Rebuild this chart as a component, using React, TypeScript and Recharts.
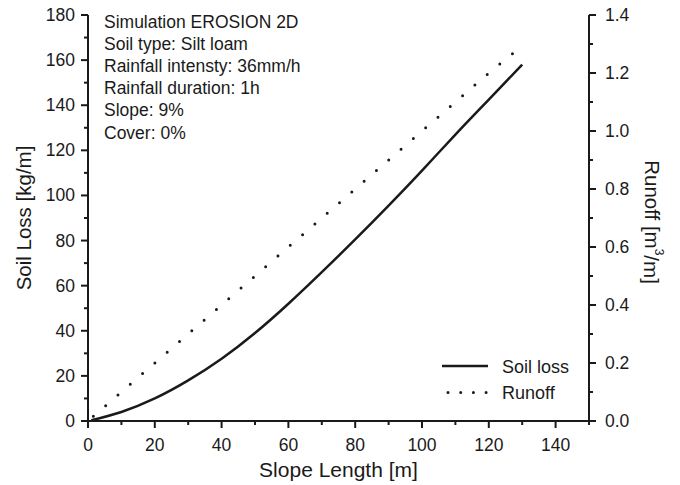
import React from 'react';
import { LineChart, Line, XAxis, YAxis, Label } from 'recharts';

const soilSlopeLength = [1, 10, 20, 30, 40, 50, 60, 70, 80, 90, 100, 110, 120, 130];
const soilLossValues = [0.3, 4, 10, 18, 27.6, 39, 52, 66, 80.5, 95.5, 111, 127, 142.5, 158];
const runoffSlopeLength = [1.6, 10, 20, 30, 40, 50, 60, 70, 80, 90, 100, 110, 120, 128];
const runoffValues = [0.016, 0.1, 0.2, 0.3, 0.4, 0.5, 0.6, 0.7, 0.8, 0.9, 1.0, 1.1, 1.2, 1.275];

const xTicks = [0, 10, 20, 30, 40, 50, 60, 70, 80, 90, 100, 110, 120, 130, 140, 150];
const xLabeled = [0, 20, 40, 60, 80, 100, 120, 140];
const leftTicks = [0, 10, 20, 30, 40, 50, 60, 70, 80, 90, 100, 110, 120, 130, 140, 150, 160, 170, 180];
const leftLabeled = [0, 20, 40, 60, 80, 100, 120, 140, 160, 180];
const rightTicks = [0, 0.1, 0.2, 0.3, 0.4, 0.5, 0.6, 0.7, 0.8, 0.9, 1.0, 1.1, 1.2, 1.3, 1.4];
const rightLabeled = ['0.0', '0.2', '0.4', '0.6', '0.8', '1.0', '1.2', '1.4'];

const annotationLines = [
  'Simulation EROSION 2D',
  'Soil type: Silt loam',
  'Rainfall intensty: 36mm/h',
  'Rainfall duration: 1h',
  'Slope: 9%',
  'Cover: 0%',
];
const legendLabels = ['Soil loss', 'Runoff'];

const soilData = soilSlopeLength.map((L, i) => ({ L, soil: soilLossValues[i] }));
const runoffData = runoffSlopeLength.map((L, i) => ({ L, runoff: runoffValues[i] }));

const FONT = '"Liberation Sans", Arial, sans-serif';
const INK = '#1a1a1a';
const TICK_FS = 17.5;

const XTick = (props: any) => {
  const { x, y, payload } = props;
  const v = payload.value;
  const major = xLabeled.includes(v);
  return (
    <g>
      <line x1={x} y1={y} x2={x} y2={y + (major ? 7 : 4)} stroke={INK} strokeWidth={2} />
      {major && (
        <text x={x} y={y + 30} textAnchor="middle" fontSize={TICK_FS} fontFamily={FONT} fill={INK}>
          {v}
        </text>
      )}
    </g>
  );
};

const LeftTick = (props: any) => {
  const { x, y, payload } = props;
  const v = payload.value;
  const major = leftLabeled.includes(v);
  return (
    <g>
      <line x1={x} y1={y} x2={x - (major ? 7 : 4)} y2={y} stroke={INK} strokeWidth={2} />
      {major && (
        <text x={x - 13} y={y + 6} textAnchor="end" fontSize={TICK_FS} fontFamily={FONT} fill={INK}>
          {v}
        </text>
      )}
    </g>
  );
};

const RightTick = (props: any) => {
  const { x, y, payload } = props;
  const v = payload.value;
  const label = v.toFixed(1);
  const major = rightLabeled.includes(label);
  return (
    <g>
      <line x1={x} y1={y} x2={x + (major ? 7 : 4)} y2={y} stroke={INK} strokeWidth={2} />
      {major && (
        <text x={x + 16} y={y + 6} textAnchor="start" fontSize={TICK_FS} fontFamily={FONT} fill={INK}>
          {label}
        </text>
      )}
    </g>
  );
};

export default function App() {
  return (
    <div style={{ position: 'absolute', left: 0, top: 0, width: 680, height: 485, background: '#fff' }}>
      <LineChart width={680} height={485} margin={{ top: 15, right: 0, bottom: 0, left: 0 }}>
        <XAxis
          type="number"
          dataKey="L"
          domain={[0, 150]}
          ticks={xTicks}
          interval={0}
          height={64}
          tickSize={0}
          tickMargin={0}
          tickLine={false}
          axisLine={{ stroke: INK, strokeWidth: 2 }}
          tick={<XTick />}
          allowDuplicatedCategory={false}
        >
          <Label
            content={(p: any) => {
              const vb = p.viewBox;
              return (
                <text x={vb.x + vb.width / 2} y={vb.y + 56} textAnchor="middle" fontSize={21} fontFamily={FONT} fill={INK}>
                  Slope Length [m]
                </text>
              );
            }}
          />
        </XAxis>
        <YAxis
          yAxisId="left"
          type="number"
          domain={[0, 180]}
          ticks={leftTicks}
          interval={0}
          width={88}
          tickSize={0}
          tickMargin={0}
          tickLine={false}
          axisLine={{ stroke: INK, strokeWidth: 2 }}
          tick={<LeftTick />}
        >
          <Label
            content={(p: any) => {
              const vb = p.viewBox;
              const cx = 23;
              const cy = vb.y + vb.height / 2;
              return (
                <text x={cx} y={cy} textAnchor="middle" dominantBaseline="central" transform={`rotate(-90 ${cx} ${cy})`} fontSize={20.5} fontFamily={FONT} fill={INK}>
                  Soil Loss [kg/m]
                </text>
              );
            }}
          />
        </YAxis>
        <YAxis
          yAxisId="right"
          orientation="right"
          type="number"
          domain={[0, 1.4]}
          ticks={rightTicks}
          interval={0}
          width={91}
          tickSize={0}
          tickMargin={0}
          tickLine={false}
          axisLine={{ stroke: INK, strokeWidth: 2 }}
          tick={<RightTick />}
        >
          <Label
            content={(p: any) => {
              const vb = p.viewBox;
              const cx = 652;
              const cy = vb.y + vb.height / 2 + 4;
              return (
                <text x={cx} y={cy} textAnchor="middle" dominantBaseline="central" transform={`rotate(90 ${cx} ${cy})`} fontSize={20.5} fontFamily={FONT} fill={INK}>
                  Runoff [m<tspan dy={-7} fontSize={12}>3</tspan><tspan dy={7}>/m]</tspan>
                </text>
              );
            }}
          />
        </YAxis>
        <Line
          yAxisId="left"
          data={soilData}
          dataKey="soil"
          type="natural"
          stroke={INK}
          strokeWidth={2.5}
          dot={false}
          isAnimationActive={false}
        />
        <Line
          yAxisId="right"
          data={runoffData}
          dataKey="runoff"
          type="linear"
          stroke={INK}
          strokeWidth={3}
          strokeDasharray="0 16.3"
          strokeLinecap="round"
          dot={false}
          isAnimationActive={false}
        />
      </LineChart>
      <svg width={680} height={485} style={{ position: 'absolute', left: 0, top: 0, pointerEvents: 'none' }}>
        {annotationLines.map((t, i) => (
          <text key={i} x={104} y={28 + i * 22.1} fontSize={17.5} fontFamily={FONT} fill={INK}>
            {t}
          </text>
        ))}
        <g transform="translate(442, 356)">
          <line x1={0} y1={10} x2={46} y2={10} stroke={INK} strokeWidth={2.5} />
          <text x={60} y={16.5} fontSize={18} fontFamily={FONT} fill={INK}>{legendLabels[0]}</text>
          <line x1={6} y1={36.5} x2={46} y2={36.5} stroke={INK} strokeWidth={3} strokeDasharray="0 12.7" strokeLinecap="round" />
          <text x={60} y={43} fontSize={18} fontFamily={FONT} fill={INK}>{legendLabels[1]}</text>
        </g>
      </svg>
    </div>
  );
}
